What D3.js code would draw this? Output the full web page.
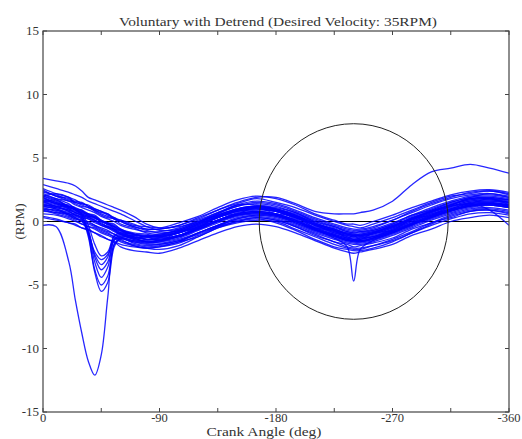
<!DOCTYPE html>
<html><head><meta charset="utf-8">
<script src="https://cdn.jsdelivr.net/npm/d3@7"></script>
<style>body{margin:0;background:#fff}svg{display:block}</style>
</head><body>
<svg id="c" width="522" height="439"></svg>
<script>
const titleText = "Voluntary with Detrend (Desired Velocity: 35RPM)";
const xLabel = "Crank Angle (deg)";
const yLabel = "(RPM)";
const xTicks = [0,-45,-90,-135,-180,-225,-270,-315,-360];
const xTickLabels = {"0":"0","-90":"-90","-180":"-180","-270":"-270","-360":"-360"};
const yTicks = [15,10,5,0,-5,-10,-15];
const circle = {cx:-240, cy:0, rx:73, ry:7.7};

const angles = [0,-10,-20,-25,-30,-35,-40,-45,-50,-55,-60,-70,-80,-90,-105,-120,-135,-150,-165,-180,-195,-210,-225,-235,-240,-245,-255,-270,-285,-300,-315,-330,-345,-360];

const t01 = [2.1,1.8,1.6,1.3,1.1,0.9,0.7,0.4,0.2,0.0,-0.3,-0.6,-0.8,-0.8,-0.5,0.1,0.7,1.2,1.4,1.2,0.7,0.1,-0.4,-0.7,-0.8,-0.8,-0.6,-0.1,0.5,1.1,1.6,2.0,2.1,1.9];
const t02 = [1.1,0.8,0.5,0.3,0.1,-0.1,-0.3,-0.6,-0.8,-1.0,-1.3,-1.6,-1.8,-1.8,-1.5,-0.9,-0.3,0.2,0.4,0.2,-0.3,-0.9,-1.4,-1.7,-1.8,-1.8,-1.6,-1.1,-0.5,0.1,0.6,1.0,1.1,0.9];
const t03 = [1.9,1.4,1.3,1.0,0.7,0.6,0.5,0.1,-0.1,-0.2,-0.6,-0.9,-1.0,-1.2,-0.8,-0.3,0.4,0.9,1.2,0.9,0.5,-0.2,-0.6,-1.0,-1.1,-1.0,-0.8,-0.4,0.3,0.8,1.3,1.8,1.8,1.5];
const t04 = [1.3,1.2,0.8,0.5,0.4,0.2,-0.1,-0.3,-0.5,-0.8,-1.0,-1.3,-1.6,-1.5,-1.1,-0.6,0.0,0.5,0.6,0.5,0.0,-0.6,-1.1,-1.5,-1.5,-1.6,-1.3,-0.8,-0.2,0.3,0.9,1.2,1.4,1.3];
const t05 = [2.6,2.2,1.9,1.7,1.4,1.3,1.0,0.8,0.5,0.3,0.0,-0.4,-0.7,-0.9,-0.7,-0.1,0.5,1.0,1.2,1.0,0.5,-0.1,-0.6,-0.9,-1.0,-1.1,-0.9,-0.4,0.2,0.8,1.3,1.8,1.9,1.7];
const t06 = [0.6,0.5,0.2,0.0,-0.2,-0.4,-0.5,-0.8,-1.0,-1.2,-1.5,-1.8,-2.0,-1.9,-1.6,-0.9,-0.3,0.3,0.5,0.3,-0.2,-0.8,-1.3,-1.6,-1.7,-1.7,-1.5,-1.0,-0.4,0.2,0.7,1.1,1.3,1.1];
const t07 = [1.7,1.4,1.1,0.9,0.6,0.4,0.3,0.0,-0.2,-0.4,-0.7,-1.0,-1.2,-1.1,-0.7,-0.1,0.6,1.2,1.5,1.3,0.8,0.2,-0.3,-0.6,-0.7,-0.7,-0.5,0.1,0.8,1.4,1.9,2.3,2.4,2.2];
const t08 = [1.5,1.2,0.9,0.7,0.5,0.3,0.1,-0.2,-0.4,-0.7,-1.0,-1.3,-1.6,-1.7,-1.4,-0.9,-0.3,0.1,0.3,0.1,-0.4,-1.1,-1.6,-2.0,-2.1,-2.1,-1.9,-1.5,-0.9,-0.3,0.2,0.6,0.7,0.5];
const t09 = [2.0,1.6,1.2,1.0,0.9,0.6,0.4,0.1,-0.1,-0.3,-0.6,-1.0,-1.1,-1.1,-0.9,-0.2,0.3,0.9,1.1,0.9,0.4,-0.2,-0.7,-1.0,-1.1,-1.1,-0.9,-0.3,0.2,0.8,1.3,1.7,1.8,1.7];
const t10 = [1.2,1.0,0.7,0.6,0.3,0.2,0.0,-0.3,-0.5,-0.7,-1.0,-1.4,-1.5,-1.5,-1.2,-0.6,0.0,0.5,0.7,0.5,0.0,-0.6,-1.1,-1.4,-1.5,-1.5,-1.3,-0.8,-0.2,0.4,0.9,1.3,1.4,1.2];
const t11 = [1.8,1.5,1.2,1.1,0.8,0.6,0.3,0.0,-0.2,-0.4,-0.7,-1.0,-1.2,-1.2,-0.9,-0.4,0.3,0.8,1.0,0.8,0.3,-0.3,-0.8,-1.1,-1.2,-1.2,-1.0,-0.5,0.1,0.7,1.2,1.6,1.7,1.5];
const t12 = [1.4,1.1,0.9,0.7,0.5,0.3,0.1,-0.2,-0.4,-0.6,-0.9,-1.2,-1.4,-1.4,-1.1,-0.5,0.1,0.6,0.8,0.6,0.1,-0.5,-1.0,-1.3,-1.4,-1.4,-1.2,-0.7,-0.1,0.5,1.0,1.4,1.5,1.3];
const t13 = [3.4,3.2,3.0,2.8,2.4,1.9,1.7,1.5,1.3,1.1,0.9,0.4,-0.2,-0.5,-0.4,0.0,0.5,1.0,1.2,1.0,0.6,0.0,-0.5,-0.8,-0.9,-0.9,-0.7,-0.2,0.4,1.0,1.5,1.9,2.0,1.8];
const t14 = [2.9,2.6,2.3,2.1,1.9,1.6,1.4,1.2,1.0,0.8,0.6,0.1,-0.4,-0.7,-0.6,0.0,0.7,1.3,1.6,1.4,0.9,0.3,-0.2,-0.5,-0.6,-0.6,-0.4,0.1,0.7,1.3,1.8,2.1,2.2,2.0];
const t15 = [0.3,0.1,-0.1,-0.3,-0.5,-0.7,-0.9,-1.2,-1.4,-1.6,-1.8,-2.0,-2.1,-2.0,-1.7,-1.1,-0.4,0.2,0.5,0.4,-0.1,-0.7,-1.2,-1.5,-1.6,-1.6,-1.4,-0.9,-0.3,0.3,0.8,1.2,1.3,1.1];
const w01 = [2.3,2.1,1.7,1.6,1.5,1.2,1.0,0.8,0.6,0.3,0.1,-0.3,-0.4,-0.5,-0.1,0.4,1.1,1.7,2.0,1.8,1.3,0.6,0.1,-0.2,-0.2,-0.3,0.0,0.5,1.1,1.6,2.1,2.4,2.5,2.3];
const w02 = [0.4,0.2,-0.1,-0.2,-0.5,-0.6,-0.9,-1.1,-1.4,-1.6,-2.0,-2.3,-2.4,-2.5,-2.1,-1.5,-0.9,-0.4,-0.2,-0.4,-0.9,-1.5,-2.1,-2.4,-2.5,-2.4,-2.2,-1.8,-1.1,-0.6,0.0,0.3,0.5,0.3];
const w03 = [1.5,1.7,1.1,1.0,0.9,0.4,0.4,0.0,-0.1,-0.6,-0.7,-1.3,-1.2,-1.5,-0.8,-0.5,0.4,0.6,1.1,0.6,0.4,-0.5,-0.7,-1.3,-1.1,-1.4,-0.9,-0.7,0.2,0.5,1.2,1.4,1.8,1.3];
const w04 = [2.5,2.0,1.8,1.4,1.2,1.1,0.8,0.5,0.3,0.2,-0.2,-0.5,-0.9,-1.0,-0.6,0.0,0.6,1.3,1.3,1.1,0.7,0.0,-0.4,-0.8,-0.9,-0.8,-0.7,-0.2,0.5,0.9,1.5,1.9,2.2,1.9];
const w05 = [0.9,0.9,0.5,0.2,0.1,0.0,-0.3,-0.5,-0.7,-1.0,-1.2,-1.7,-1.9,-1.8,-1.5,-1.0,-0.4,0.0,0.3,0.1,-0.4,-1.0,-1.6,-1.8,-2.0,-1.9,-1.7,-1.3,-0.6,-0.1,0.5,0.9,1.0,0.8];
const w06 = [1.6,1.2,1.2,0.9,0.8,0.5,0.2,0.1,-0.3,-0.5,-0.8,-1.1,-1.4,-1.3,-1.1,-0.4,0.1,0.7,0.9,0.8,0.2,-0.4,-0.9,-1.2,-1.4,-1.3,-1.2,-0.6,0.0,0.6,1.0,1.5,1.6,1.5];
const w07 = [2.0,2.2,1.9,1.5,1.4,1.2,0.9,0.7,0.6,0.2,0.1,-0.2,-0.6,-0.6,-0.3,0.2,0.9,1.4,1.8,1.5,1.1,0.5,0.0,-0.3,-0.4,-0.5,-0.2,0.3,0.9,1.5,2.0,2.2,2.4,2.1];
const w08 = [1.0,0.7,0.6,0.3,0.0,-0.2,-0.4,-0.7,-0.9,-1.2,-1.4,-1.9,-2.1,-2.0,-1.6,-1.2,-0.5,-0.1,0.1,0.0,-0.6,-1.2,-1.8,-2.1,-2.2,-2.2,-1.9,-1.4,-0.8,-0.1,0.3,0.8,0.9,0.6];
const bigDip = [-0.3,-0.4,-3.2,-6.2,-8.8,-11.0,-12.1,-10.5,-6.0,-1.8,-1.3,-1.5,-1.6,-1.5,-1.2,-0.6,0.0,0.5,0.7,0.5,0.0,-0.6,-1.1,-1.4,-1.5,-1.5,-1.3,-0.8,-0.2,0.4,0.9,1.3,1.4,1.2];
const dip1 = [1.3,1.1,0.8,0.5,0.2,-0.8,-2.6,-3.4,-2.8,-1.2,-1.0,-1.2,-1.4,-1.3,-0.9,-0.4,0.3,0.8,1.0,0.8,0.3,-0.3,-0.8,-1.1,-1.2,-1.2,-1.0,-0.5,0.1,0.7,1.2,1.6,1.7,1.5];
const dip2 = [1.7,1.4,1.0,0.7,0.4,-0.6,-2.8,-3.8,-3.2,-1.4,-1.1,-1.4,-1.6,-1.5,-1.1,-0.5,0.1,0.6,0.8,0.6,0.1,-0.5,-1.0,-1.3,-1.4,-1.4,-1.2,-0.7,-0.1,0.5,1.0,1.4,1.5,1.3];
const dip3 = [1.0,0.9,0.6,0.5,0.3,-0.9,-3.2,-4.4,-3.6,-1.5,-1.2,-1.3,-1.2,-1.1,-0.8,-0.2,0.4,0.9,1.1,0.9,0.4,-0.2,-0.7,-1.0,-1.1,-1.1,-0.9,-0.4,0.2,0.8,1.3,1.7,1.8,1.6];
const dip4 = [2.0,1.7,1.2,0.9,0.5,-1.0,-3.8,-5.0,-4.3,-1.8,-1.4,-1.6,-1.7,-1.6,-1.3,-0.7,-0.1,0.4,0.6,0.4,-0.1,-0.7,-1.2,-1.5,-1.6,-1.6,-1.4,-0.9,-0.3,0.3,0.8,1.2,1.3,1.1];
const dip5 = [1.2,1.0,0.6,0.4,0.2,-1.2,-4.0,-5.5,-4.8,-2.0,-1.3,-1.1,-1.2,-1.2,-0.9,-0.3,0.3,0.8,1.0,0.8,0.3,-0.3,-0.9,-1.2,-1.3,-1.3,-1.1,-0.6,0.0,0.6,1.1,1.5,1.6,1.4];
const dip6 = [0.8,0.7,0.4,0.2,0.0,-0.9,-2.4,-3.0,-2.6,-1.4,-1.3,-1.5,-1.7,-1.6,-1.2,-0.6,0.0,0.5,0.7,0.5,0.0,-0.6,-1.1,-1.4,-1.5,-1.5,-1.3,-0.8,-0.2,0.4,0.9,1.3,1.4,1.2];
const dip7 = [2.2,1.8,1.4,1.0,0.6,-0.3,-1.8,-2.7,-2.4,-1.1,-0.9,-1.0,-1.1,-1.0,-0.7,-0.1,0.5,1.0,1.2,1.0,0.5,-0.1,-0.6,-0.9,-1.0,-1.0,-0.8,-0.3,0.3,0.9,1.4,1.8,1.9,1.7];
const upper = [2.4,2.0,1.6,1.5,1.3,1.1,0.9,0.6,0.4,0.2,0.0,-0.4,-0.6,-0.6,-0.3,0.3,0.9,1.5,1.9,1.9,1.4,0.8,0.6,0.6,0.6,0.7,0.9,1.6,2.9,3.9,4.2,4.5,4.2,3.8];
const circDip = [1.6,1.3,1.0,0.8,0.6,0.4,0.1,-0.1,-0.4,-0.6,-0.9,-1.2,-1.4,-1.4,-1.1,-0.5,0.1,0.6,0.8,0.6,0.1,-0.6,-1.3,-2.0,-4.7,-2.2,-1.5,-0.9,-0.2,0.4,0.9,1.3,1.4,1.2];
const lower = [0.9,0.6,0.3,0.1,-0.2,-0.4,-0.6,-0.9,-1.1,-1.3,-1.6,-1.9,-2.1,-2.2,-1.9,-1.2,-0.5,0.0,0.2,-0.1,-0.7,-1.4,-2.0,-2.2,-2.3,-2.3,-2.1,-1.6,-0.9,-0.2,0.4,0.8,0.9,0.7];
const endFall = [1.9,1.5,1.1,0.9,0.7,0.5,0.3,0.0,-0.2,-0.4,-0.7,-1.0,-1.2,-1.2,-0.8,-0.2,0.4,0.9,1.1,0.9,0.4,-0.2,-0.7,-1.0,-1.1,-1.1,-0.9,-0.4,0.2,0.8,1.2,1.4,0.9,-0.3];

const traces = [t01,t02,t03,t04,t05,t06,t07,t08,t09,t10,t11,t12,t13,t14,t15,
  w01,w02,w03,w04,w05,w06,w07,w08,
  bigDip,dip1,dip2,dip3,dip4,dip5,dip6,dip7,upper,circDip,lower,endFall];

const svg = d3.select("#c");
const L = 43, R = 509, T = 31, B = 412;
const x = d3.scaleLinear().domain([0,-360]).range([L,R]);
const y = d3.scaleLinear().domain([-15,15]).range([B,T]);
const font = "'Liberation Serif','DejaVu Serif',serif";
const txtCol = "#333";

svg.append("defs").append("clipPath").attr("id","clip")
  .append("rect").attr("x",L).attr("y",T).attr("width",R-L).attr("height",B-T);

// zero line
svg.append("line").attr("x1",x(0)).attr("x2",x(-360)).attr("y1",y(0)).attr("y2",y(0))
  .attr("stroke","#000").attr("stroke-width",1);

const line = d3.line().x((d,i)=>x(angles[i])).y(d=>y(d)).curve(d3.curveCatmullRom.alpha(0.5));
svg.append("g").attr("clip-path","url(#clip)").selectAll("path").data(traces).join("path")
  .attr("d",line).attr("fill","none").attr("stroke","#0000ff").attr("stroke-width",1.3).attr("stroke-opacity",0.85);

// circle
svg.append("ellipse").attr("cx",x(circle.cx)).attr("cy",y(circle.cy))
  .attr("rx",Math.abs(x(circle.rx)-x(0))).attr("ry",Math.abs(y(circle.ry)-y(0)))
  .attr("fill","none").attr("stroke","#222").attr("stroke-width",1);

// box
svg.append("rect").attr("x",L).attr("y",T).attr("width",R-L).attr("height",B-T)
  .attr("fill","none").attr("stroke","#444").attr("stroke-width",1.2);

// ticks
const tk = 4;
const g = svg.append("g").attr("stroke","#444").attr("stroke-width",1);
xTicks.forEach(v=>{
  g.append("line").attr("x1",x(v)).attr("x2",x(v)).attr("y1",B).attr("y2",B-tk);
  g.append("line").attr("x1",x(v)).attr("x2",x(v)).attr("y1",T).attr("y2",T+tk);
});
yTicks.forEach(v=>{
  g.append("line").attr("x1",L).attr("x2",L+tk).attr("y1",y(v)).attr("y2",y(v));
  g.append("line").attr("x1",R).attr("x2",R-tk).attr("y1",y(v)).attr("y2",y(v));
});

// tick labels
xTicks.filter(v=>xTickLabels[String(v)]!==undefined).forEach(v=>{
  svg.append("text").attr("x",x(v)).attr("y",B+10).attr("text-anchor","middle")
    .attr("font-family",font).attr("font-size",12.5).attr("fill",txtCol).text(xTickLabels[String(v)]);
});
yTicks.forEach(v=>{
  svg.append("text").attr("x",L-4).attr("y",y(v)+4).attr("text-anchor","end")
    .attr("font-family",font).attr("font-size",13).attr("fill",txtCol).text(String(v));
});

// title and labels
svg.append("text").attr("x",(L+R)/2+2).attr("y",T-5).attr("text-anchor","middle")
  .attr("font-family",font).attr("font-size",13).attr("fill",txtCol)
  .attr("textLength",318).attr("lengthAdjust","spacingAndGlyphs").text(titleText);
svg.append("text").attr("x",264).attr("y",B+23.5).attr("text-anchor","middle")
  .attr("font-family",font).attr("font-size",12).attr("fill",txtCol)
  .attr("textLength",115).attr("lengthAdjust","spacingAndGlyphs").text(xLabel);
svg.append("text").attr("transform","translate(24,"+y(0)+") rotate(-90)").attr("text-anchor","middle")
  .attr("font-family",font).attr("font-size",13).attr("fill",txtCol).text(yLabel);
</script>
</body></html>
